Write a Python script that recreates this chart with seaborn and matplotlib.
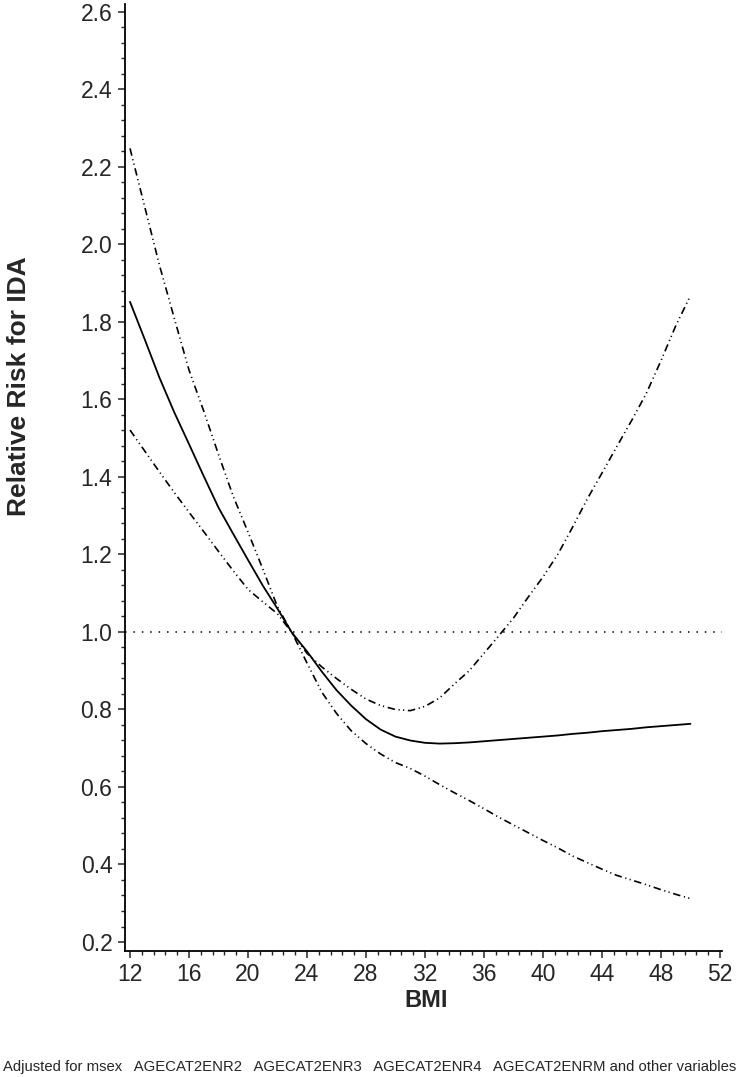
import matplotlib
matplotlib.use("Agg")
import matplotlib.pyplot as plt
import seaborn as sns
import numpy as np
from matplotlib.ticker import MultipleLocator, FormatStrFormatter

# spline estimate of relative risk of IDA by BMI
bmi = [12, 13, 14, 15, 16, 17, 18, 19, 20, 21, 22, 23, 24, 25, 26, 27, 28, 29,
       30, 31, 32, 33, 34, 35, 36, 37, 38, 39, 40, 41, 42, 43, 44, 45, 46, 47,
       48, 49, 50]

rr = [1.852, 1.755, 1.656, 1.567, 1.485, 1.402, 1.321, 1.253, 1.186, 1.120,
      1.060, 0.997, 0.950, 0.898, 0.850, 0.810, 0.775, 0.748, 0.730, 0.720,
      0.714, 0.712, 0.713, 0.715, 0.718, 0.721, 0.724, 0.727, 0.730, 0.733,
      0.737, 0.740, 0.744, 0.747, 0.750, 0.754, 0.757, 0.760, 0.763]

rr_upper = [2.248, 2.097, 1.946, 1.810, 1.676, 1.570, 1.458, 1.350, 1.258, 1.163,
            1.065, 0.997, 0.945, 0.910, 0.880, 0.852, 0.827, 0.810, 0.800, 0.797,
            0.808, 0.830, 0.866, 0.900, 0.945, 0.990, 1.036, 1.090, 1.142, 1.200,
            1.270, 1.343, 1.410, 1.478, 1.545, 1.615, 1.700, 1.790, 1.868]

rr_lower = [1.521, 1.467, 1.413, 1.360, 1.309, 1.259, 1.208, 1.158, 1.110, 1.078,
            1.047, 0.997, 0.920, 0.845, 0.790, 0.745, 0.712, 0.685, 0.663, 0.648,
            0.628, 0.606, 0.585, 0.565, 0.544, 0.522, 0.502, 0.482, 0.462, 0.443,
            0.422, 0.405, 0.388, 0.372, 0.360, 0.348, 0.335, 0.323, 0.312]

ref_rr = 1.0

sns.set_style("ticks")
plt.rcParams["font.family"] = ["Liberation Sans", "DejaVu Sans"]

fig = plt.figure(figsize=(7.4, 10.77), dpi=100)
ax = fig.add_axes([0.1689, 0.1170, 0.8068, 0.8793])

dashdotdot = (0, (4.5, 2.2, 0.7, 2.0, 0.7, 2.2))

sns.lineplot(x=bmi, y=rr, ax=ax, color="black", linewidth=1.3)
sns.lineplot(x=bmi, y=rr_upper, ax=ax, color="black", linewidth=1.2, linestyle=dashdotdot)
sns.lineplot(x=bmi, y=rr_lower, ax=ax, color="black", linewidth=1.2, linestyle=dashdotdot)
ax.axhline(ref_rr, color="black", linewidth=1.1, linestyle=(0, (1, 4.5)))

ax.set_xlim(11.66, 52.14)
ax.set_ylim(0.1768, 2.6206)

ax.xaxis.set_major_locator(MultipleLocator(4))
ax.xaxis.set_minor_locator(MultipleLocator(0.8))
ax.yaxis.set_major_locator(MultipleLocator(0.2))
ax.yaxis.set_minor_locator(MultipleLocator(0.04))
ax.yaxis.set_major_formatter(FormatStrFormatter("%.1f"))
ax.set_xticks(np.arange(12, 53, 4))

ax.tick_params(which="major", direction="out", length=5, width=1.1, labelsize=16.5, pad=4)
ax.tick_params(which="minor", direction="out", length=3, width=1.0)

for side in ["top", "right"]:
    ax.spines[side].set_visible(False)
for side in ["left", "bottom"]:
    ax.spines[side].set_linewidth(1.3)
    ax.spines[side].set_color("black")

ax.set_xlabel("BMI", fontsize=17, fontweight="bold")
ax.xaxis.set_label_coords(0.505, -0.040)
ax.set_ylabel("Relative Risk for IDA", fontsize=19, fontweight="bold")
ax.yaxis.set_label_coords(-0.158, 0.596)

fig.text(0.004, 0.0093,
         "Adjusted for msex   AGECAT2ENR2   AGECAT2ENR3   AGECAT2ENR4   AGECAT2ENRM and other variables",
         fontsize=10.75, va="center", ha="left")

fig.savefig("out.png", dpi=100)
